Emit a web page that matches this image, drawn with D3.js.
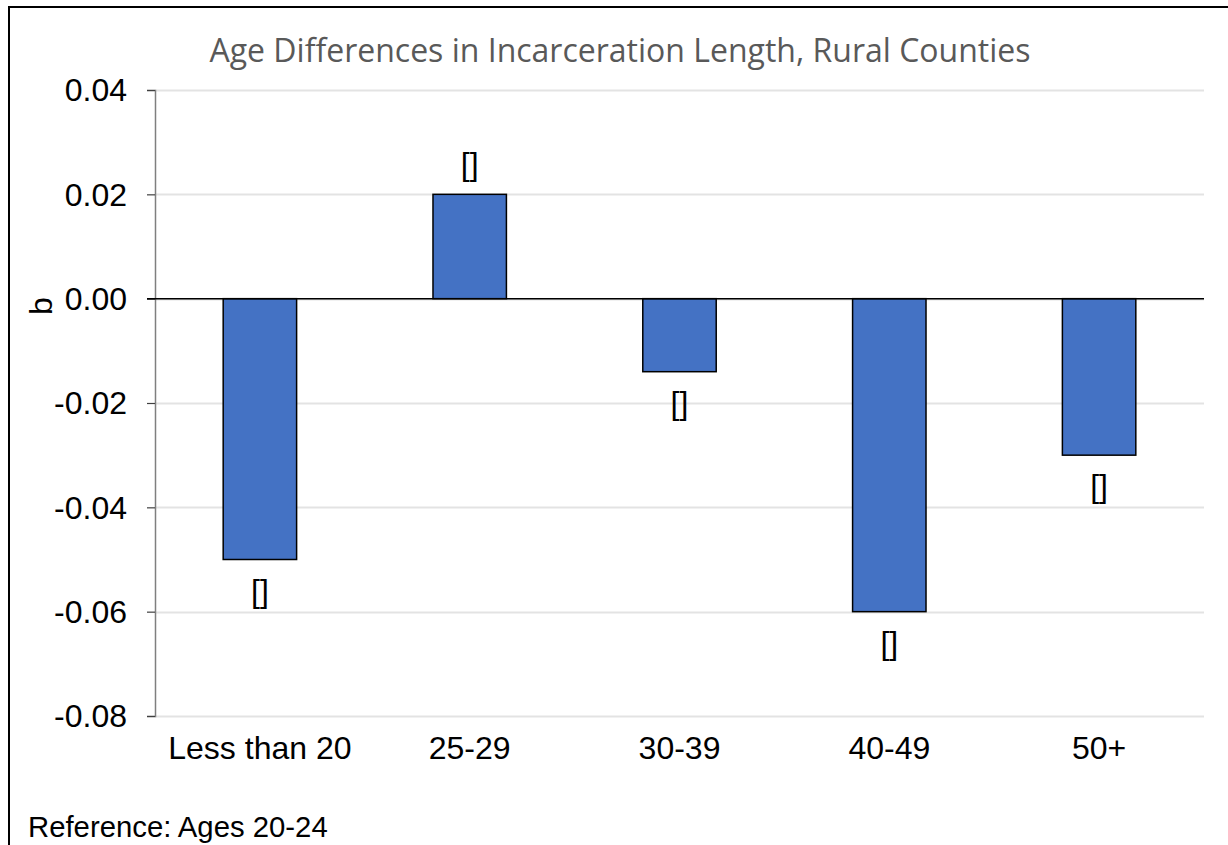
<!DOCTYPE html>
<html>
<head>
<meta charset="utf-8">
<script src="https://cdn.jsdelivr.net/npm/d3@7"></script>
<style>
  html, body { margin: 0; padding: 0; background: #fff; }
  svg { display: block; }
</style>
</head>
<body>
<svg id="chart" width="1228" height="845"></svg>
<script>
// Regression coefficients by age group (reference group: ages 20-24)
const categories = ["Less than 20", "25-29", "30-39", "40-49", "50+"];
const values = [-0.05, 0.02, -0.014, -0.06, -0.03];
const barLabels = ["[]", "[]", "[]", "[]", "[]"];
const yTicks = [0.04, 0.02, 0.00, -0.02, -0.04, -0.06, -0.08];

const svg = d3.select("#chart");
const W = 1228, H = 845;
const plot = { left: 155, right: 1204, top: 90, bottom: 716 };
const FONT = "Liberation Sans, Arial, sans-serif";

// outer frame (top and left edges)
svg.append("path")
  .attr("d", `M9,${H} L9,7 L${W},7`)
  .attr("fill", "none")
  .attr("stroke", "#000")
  .attr("stroke-width", 2);

const x = d3.scaleBand()
  .domain(categories)
  .range([plot.left, plot.right])
  .paddingInner(0.65)
  .paddingOuter(0.325);

const y = d3.scaleLinear()
  .domain([-0.08, 0.04])
  .range([plot.bottom, plot.top]);

// horizontal gridlines
svg.append("g")
  .selectAll("line")
  .data(yTicks)
  .join("line")
  .attr("x1", plot.left)
  .attr("x2", plot.right)
  .attr("y1", d => Math.round(y(d)) + 0.5)
  .attr("y2", d => Math.round(y(d)) + 0.5)
  .attr("stroke", "#e3e3e3")
  .attr("stroke-width", 2);

// y axis
const yAxis = d3.axisLeft(y)
  .tickValues(yTicks)
  .tickFormat(d3.format(".2f"))
  .tickSize(8)
  .tickPadding(20);

const gy = svg.append("g")
  .attr("transform", `translate(${plot.left},0)`)
  .call(yAxis);
gy.attr("font-size", null).attr("font-family", null);
gy.select(".domain").attr("stroke", "#7f7f7f").attr("stroke-width", 1.5);
gy.selectAll(".tick line").attr("stroke", "#404040").attr("stroke-width", 1.2);
gy.selectAll(".tick text")
  .attr("font-family", FONT)
  .attr("font-size", 32)
  .attr("fill", "#000")
  .attr("dy", "0.34em")
  .text(d => d3.format(".2f")(d).replace("−", "-"));

// bars
svg.append("g")
  .selectAll("rect")
  .data(values)
  .join("rect")
  .attr("x", (d, i) => x(categories[i]))
  .attr("width", x.bandwidth())
  .attr("y", d => y(Math.max(0, d)))
  .attr("height", d => Math.abs(y(d) - y(0)))
  .attr("fill", "#4472c4")
  .attr("stroke", "#000")
  .attr("stroke-width", 1.5);

// zero baseline
svg.append("line")
  .attr("x1", plot.left - 8)
  .attr("x2", plot.right)
  .attr("y1", y(0))
  .attr("y2", y(0))
  .attr("stroke", "#000")
  .attr("stroke-width", 1.5);

// value labels
svg.append("g")
  .selectAll("text")
  .data(values)
  .join("text")
  .attr("x", (d, i) => x(categories[i]) + x.bandwidth() / 2)
  .attr("y", d => d >= 0 ? y(d) - 19 : y(d) + 42)
  .attr("text-anchor", "middle")
  .attr("font-family", FONT)
  .attr("font-size", 32)
  .attr("fill", "#000")
  .text((d, i) => barLabels[i]);

// category labels
svg.append("g")
  .selectAll("text")
  .data(categories)
  .join("text")
  .attr("x", d => x(d) + x.bandwidth() / 2)
  .attr("y", 759)
  .attr("text-anchor", "middle")
  .attr("font-family", FONT)
  .attr("font-size", 32)
  .attr("fill", "#000")
  .text(d => d);

// y axis title
svg.append("text")
  .attr("transform", "translate(52,306) rotate(-90)")
  .attr("text-anchor", "middle")
  .attr("font-family", FONT)
  .attr("font-size", 32)
  .attr("fill", "#000")
  .text("b");

// chart title
svg.append("text")
  .attr("x", 620)
  .attr("y", 62)
  .attr("text-anchor", "middle")
  .attr("font-family", "Open Sans, sans-serif")
  .attr("font-size", 32)
  .attr("fill", "#595959")
  .text("Age Differences in Incarceration Length, Rural Counties");

// footnote
svg.append("text")
  .attr("x", 28)
  .attr("y", 837)
  .attr("font-family", FONT)
  .attr("font-size", 29.3)
  .attr("fill", "#000")
  .text("Reference: Ages 20-24");
</script>
</body>
</html>
